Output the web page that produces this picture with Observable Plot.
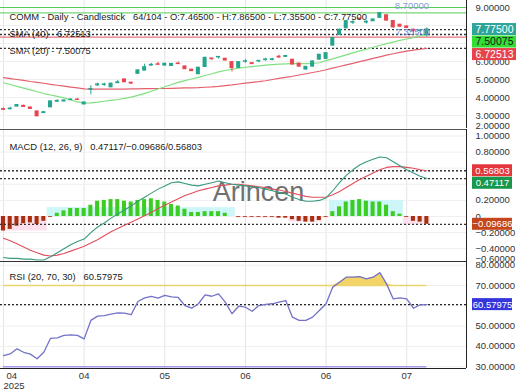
<!DOCTYPE html>
<html>
<head>
<meta charset="utf-8">
<script src="https://cdn.jsdelivr.net/npm/d3@7"></script>
<script src="https://cdn.jsdelivr.net/npm/@observablehq/plot@0.6"></script>
<style>
  html, body { margin: 0; padding: 0; background: #fff; }
  #chart { position: relative; width: 520px; height: 390px; overflow: hidden; background: #fff; }
  #chart > svg { position: absolute; left: 0; overflow: visible; }
</style>
</head>
<body>
<div id="chart"></div>
<script>
// ================= DATA =================
const symbol = "COMM";
const barsShown = 64, barsTotal = 104;

const openP  = [3.35,3.35,3.50,3.53,3.44,3.22,3.14,3.46,3.77,3.78, 3.86,3.88,3.62,4.44,4.68,4.70,4.57,4.80,5.00,4.82,
                5.32,5.50,5.78,5.84,5.78,5.76,5.88,5.72,5.54,5.30, 5.70,6.16,6.23,6.15,5.96,5.65,5.99,5.90,6.01,6.08,
                6.09,6.26,6.26,6.09,5.88,5.56,5.72,6.11,6.15,6.89, 7.48,7.85,8.16,8.38,8.17,8.24,8.43,8.56,8.24,8.04,
                7.94,7.76,7.70,7.465];
const highP  = [3.42,3.46,3.60,3.58,3.46,3.24,3.22,3.80,3.88,3.86, 3.94,3.95,3.74,4.65,4.80,4.80,4.80,4.95,5.02,4.84,
                5.53,5.85,5.90,5.95,5.90,5.88,5.97,5.74,5.56,5.67, 6.24,6.17,6.26,6.17,6.00,5.98,6.10,5.92,6.04,6.18,
                6.18,6.35,6.31,6.12,5.90,5.72,6.02,6.40,6.48,7.32, 7.80,8.28,8.26,8.39,8.28,8.35,8.70,8.60,8.26,8.06,
                7.98,7.80,7.78,7.865];
const lowP   = [3.30,3.32,3.48,3.46,3.35,2.93,3.12,3.44,3.74,3.77, 3.86,3.86,3.60,4.15,4.62,4.62,4.55,4.80,4.83,4.72,
                5.30,5.48,5.74,5.81,5.76,5.72,5.85,5.55,5.45,5.26, 5.68,6.05,6.14,6.04,5.42,5.62,5.90,5.84,5.93,6.02,
                6.03,6.18,6.25,5.80,5.70,5.50,5.70,6.08,6.12,6.85, 7.45,7.82,8.05,8.28,8.08,8.22,8.40,8.25,7.86,7.90,
                7.84,7.60,7.62,7.355];
const closeP = [3.32,3.38,3.58,3.48,3.37,2.96,3.18,3.78,3.80,3.83, 3.88,3.87,3.72,4.47,4.72,4.72,4.76,4.84,4.85,4.78,
                5.50,5.68,5.81,5.82,5.87,5.86,5.86,5.58,5.47,5.65, 6.20,6.14,6.25,6.06,5.64,5.96,6.01,5.86,6.03,6.11,
                6.12,6.23,6.30,5.84,5.72,5.70,6.00,6.37,6.46,7.30, 7.76,8.24,8.19,8.36,8.20,8.33,8.68,8.28,7.90,7.94,
                7.87,7.70,7.72,7.775];
const sma20  = [4.82,4.72,4.62,4.52,4.42,4.32,4.22,4.14,4.06,3.98, 3.86,3.76,3.69,3.70,3.74,3.79,3.84,3.89,3.95,4.02,
                4.12,4.23,4.35,4.47,4.60,4.72,4.84,4.94,5.03,5.12, 5.22,5.32,5.42,5.50,5.57,5.63,5.68,5.72,5.76,5.80,
                5.83,5.85,5.87,5.88,5.88,5.88,5.89,5.93,6.05,6.15, 6.26,6.37,6.48,6.59,6.68,6.79,6.89,6.99,7.08,7.17,
                7.25,7.33,7.42,7.50075];
const sma40  = [5.10,5.05,5.00,4.95,4.89,4.84,4.79,4.73,4.68,4.63, 4.58,4.53,4.48,4.46,4.46,4.46,4.47,4.47,4.47,4.48,
                4.48,4.49,4.49,4.50,4.50,4.51,4.52,4.53,4.54,4.55, 4.57,4.59,4.62,4.66,4.70,4.75,4.80,4.84,4.88,4.93,
                5.00,5.06,5.12,5.18,5.25,5.32,5.39,5.46,5.54,5.63, 5.72,5.81,5.90,5.99,6.08,6.17,6.26,6.35,6.43,6.51,
                6.58,6.63,6.68,6.72513];
const greenLevels = [9.0, 8.7];

const macdLine   = [-0.51,-0.52,-0.52,-0.53,-0.53,-0.54,-0.54,-0.50,-0.45,-0.40, -0.35,-0.31,-0.28,-0.20,-0.13,-0.08,-0.02,0.03,0.08,0.13,
                    0.19,0.24,0.29,0.34,0.38,0.42,0.43,0.41,0.39,0.38, 0.40,0.42,0.44,0.42,0.40,0.39,0.38,0.37,0.36,0.34,
                    0.32,0.30,0.28,0.24,0.21,0.19,0.19,0.20,0.23,0.32, 0.42,0.51,0.58,0.64,0.68,0.71,0.74,0.73,0.68,0.63,
                    0.58,0.54,0.50,0.47117];
const signalLine = [-0.27,-0.30,-0.34,-0.38,-0.42,-0.45,-0.48,-0.49,-0.48,-0.46, -0.43,-0.40,-0.37,-0.33,-0.29,-0.24,-0.19,-0.15,-0.11,-0.07,
                    -0.03,0.01,0.05,0.10,0.14,0.18,0.22,0.26,0.29,0.32, 0.34,0.36,0.38,0.39,0.40,0.40,0.39,0.38,0.37,0.36,
                    0.34,0.33,0.31,0.29,0.27,0.25,0.24,0.24,0.24,0.27, 0.31,0.36,0.41,0.46,0.50,0.54,0.58,0.61,0.62,0.62,
                    0.61,0.60,0.58,0.56803];
const histogram  = [-0.18,-0.16,-0.12,-0.09,-0.08,-0.10,-0.06,-0.01,0.04,0.07, 0.10,0.10,0.10,0.14,0.19,0.20,0.21,0.21,0.19,0.18,
                    0.20,0.21,0.22,0.20,0.18,0.15,0.13,0.09,0.05,0.05, 0.06,0.06,0.06,0.04,0.00,-0.01,-0.01,-0.01,-0.01,-0.01,
                    -0.01,-0.02,-0.02,-0.04,-0.06,-0.07,-0.07,-0.05,-0.01,0.06, 0.12,0.18,0.20,0.21,0.19,0.18,0.18,0.14,0.06,0.03,
                    -0.01,-0.06,-0.07,-0.09686];
const histBand   = [-0.18,-0.18,-0.18,-0.18,-0.18,-0.18,-0.18,0.11,0.11,0.11, 0.11,0.11,0.11,0.11,0.11,0.11,0.11,0.11,0.11,0.11,
                    0.11,0.11,0.11,0.11,0.11,0.11,0.11,0.11,0.11,0.11, 0.11,0.11,0.11,0.11,0.11,-0.02,-0.02,-0.02,-0.02,-0.02,
                    -0.02,-0.02,-0.02,-0.07,-0.07,-0.07,-0.07,-0.07,-0.02,0.20, 0.20,0.20,0.20,0.20,0.20,0.20,0.20,0.20,0.20,0.20,
                    -0.10,-0.10,-0.10,-0.10];

const rsi = [35.5,36.3,38.8,37.1,36.2,33.9,37.1,44.0,44.2,45.4, 45.7,45.4,43.7,52.8,54.9,55.2,55.9,56.5,56.4,55.6,
             62.1,63.9,64.6,63.8,65.1,64.4,64.1,60.1,58.8,61.0, 65.4,64.7,65.9,61.8,56.1,59.8,59.3,57.3,60.1,60.7,
             61.0,61.8,62.6,54.4,52.8,52.8,54.4,57.7,61.0,69.2, 71.6,74.1,74.1,74.4,73.3,74.1,76.3,70.8,63.4,63.9,
             63.4,58.8,60.5,60.57975];
const rsiOver = 70, rsiUnder = 30;

const xTickIdx    = [0, 12, 24, 36, 48, 60];
const xTickLabels = ["04", "04", "05", "06", "06", "07"];
const xTickYears  = ["2025", "", "", "", "", ""];
const priceTicks = [2, 3, 4, 5, 6, 7, 8, 9];
const macdTicks  = [-0.6, -0.4, -0.2, 0, 0.2, 0.4, 0.6, 0.8, 1.0];
const rsiTicks   = [30, 40, 50, 60, 70, 80];

// ================= LAYOUT / STYLE =================
const FONT = "'Liberation Sans', Arial, Helvetica, sans-serif";
const W = 520, MR = 54;
const x0px = 3, step = 6.72;
const plotW = W - MR;
const xDomain = [-x0px / step, (plotW - x0px) / step];
const xMax = xDomain[1];
const UP = "#26a58e", DOWN = "#e8454f";
const TITLE_FS = 9.4, AXIS_FS = 9.5;
const f5 = d3.format(".5f");
const tickFmt = d => d === 0 ? "0" : f5(d);
const NB = "\u00a0\u00a0\u00a0";

const N = closeP.length;
const rows = d3.range(N).map(i => ({
  i, o: openP[i], h: highP[i], l: lowP[i], c: closeP[i],
  s20: sma20[i], s40: sma40[i],
  macd: macdLine[i], sig: signalLine[i], hist: histogram[i], band: histBand[i],
  rsi: rsi[i]
}));
const last = rows[N - 1];

const base = {
  width: W, marginLeft: 0, marginRight: MR,
  x: {domain: xDomain, axis: null},
  style: {fontFamily: FONT, fontSize: "10px", background: "transparent", overflow: "visible", color: "#333"}
};

// axis tick labels; those fully hidden behind a value box are dropped, out-of-range ones are clamped
function axisLabels(ticks, yDomain, bottomPx, boxValues) {
  const lo = Math.min(...yDomain), hi = Math.max(...yDomain);
  const sc = d3.scaleLinear(yDomain, [bottomPx, 0]);
  const boxes = boxValues.map(sc);
  const visible = ticks.filter(t => !boxes.some(b => Math.abs(sc(t) - b) < 4));
  const inside = visible.filter(t => t >= lo && t <= hi);
  const below = visible.filter(t => t < lo);
  return [
    Plot.text(inside, {x: () => xMax, y: d => d, text: tickFmt, textAnchor: "start", dx: 9, fill: "#333", fontSize: AXIS_FS}),
    Plot.text(below, {x: () => xMax, y: () => lo, text: tickFmt, textAnchor: "start", dx: 9, lineAnchor: "bottom", fill: "#333", fontSize: AXIS_FS})
  ];
}

// coloured value boxes on the right axis, pushed apart so they do not overlap
function valueLabels(labels, yDomain, bottomPx, boxW, fs) {
  const sc = d3.scaleLinear(yDomain, [bottomPx, 0]);
  const items = labels.map(l => ({...l, py: sc(l.v)})).sort((a, b) => a.py - b.py);
  let prev = -Infinity;
  for (const it of items) { const y = Math.max(it.py, prev + 12.5); it.dy = y - it.py; prev = y; }
  return items.flatMap(it => [
    Plot.rect([it], {x1: () => xMax, x2: () => xMax, y1: "v", y2: "v", dy: it.dy,
      insetLeft: 6, insetRight: -(6 + boxW), insetTop: -6, insetBottom: -6, fill: it.bg}),
    Plot.text([it], {x: () => xMax, y: "v", dy: it.dy, dx: 6 + boxW / 2, text: "t", fill: it.fg,
      textAnchor: "middle", fontSize: fs})
  ]);
}

const chart = document.getElementById("chart");
function place(svg, top) { svg.style.top = top + "px"; chart.appendChild(svg); }

// ================= PRICE PANE =================
const priceDomain = [2.2778, 9.3889];
const priceH = 129, priceBottom = 128;
const priceBoxes = [
  {v: last.c, t: f5(last.c), bg: "#2fa59a", fg: "#fff"},
  {v: last.s20, t: f5(last.s20), bg: "#33dd33", fg: "#1a1a1a"},
  {v: last.s40, t: f5(last.s40), bg: "#e8434b", fg: "#fff"}
];
const pricePlot = Plot.plot({
  ...base, height: priceH, marginTop: 0, marginBottom: priceH - priceBottom,
  y: {domain: priceDomain, axis: null},
  marks: [
    Plot.ruleX(xTickIdx, {stroke: "#e4e4e4"}),
    Plot.ruleY(priceTicks.filter(t => t > priceDomain[0] && t < priceDomain[1]), {stroke: "#efefef"}),
    Plot.ruleY(greenLevels, {stroke: "#55cc55", strokeWidth: 1}),
    Plot.ruleY([last.l], {stroke: "#e0505a", strokeWidth: 1}),
    Plot.ruleY([last.c, last.s20, last.s40], {stroke: "#333", strokeDasharray: "2,2", strokeWidth: 1.3}),
    Plot.line(rows, {x: "i", y: "s40", stroke: "#e4606c", strokeWidth: 1.2}),
    Plot.line(rows, {x: "i", y: "s20", stroke: "#80e080", strokeWidth: 1.2}),
    Plot.ruleX(rows, {x: "i", y1: "l", y2: "h", stroke: d => d.c >= d.o ? UP : DOWN, strokeWidth: 1}),
    Plot.rect(rows, {x1: d => d.i - 0.3, x2: d => d.i + 0.3,
      y1: d => Math.min(d.o, d.c), y2: d => Math.max(d.o, d.c),
      insetTop: -0.6, insetBottom: -0.6, fill: d => d.c >= d.o ? UP : DOWN}),
    Plot.text([d3.max(highP)], {x: () => N - 1, y: d => d, text: f5, dx: -15, dy: -7, fill: "#8aa0d8", fontSize: AXIS_FS}),
    Plot.text([last.l], {x: () => N - 1, y: d => d, text: f5, dx: -14, dy: -5, fill: "#6f8ad0", fontSize: AXIS_FS}),
    Plot.ruleX([xMax], {stroke: "#222"}),
    ...axisLabels(priceTicks, priceDomain, priceBottom, priceBoxes.map(b => b.v)),
    ...valueLabels(priceBoxes, priceDomain, priceBottom, 44, 10.5),
    Plot.text([`${symbol} - Daily - Candlestick${NB}${barsShown}/${barsTotal} - O:${f5(last.o)} - H:${f5(last.h)} - L:${f5(last.l)} - C:${f5(last.c)}`],
      {frameAnchor: "top-left", dx: 9, dy: 13, textAnchor: "start", fill: "#222", fontSize: TITLE_FS}),
    Plot.text([`SMA (40) - ${f5(last.s40)}`], {frameAnchor: "top-left", dx: 9, dy: 30, textAnchor: "start", fill: "#222", fontSize: TITLE_FS}),
    Plot.text([`SMA (20) - ${f5(last.s20)}`], {frameAnchor: "top-left", dx: 9, dy: 47, textAnchor: "start", fill: "#222", fontSize: TITLE_FS})
  ]
});
place(pricePlot, 0);

// ================= MACD PANE =================
const macdDomain = [-0.559, 1.0807];
const macdH = 132;
const macdBoxes = [
  {v: last.sig, t: f5(last.sig), bg: "#e3363d", fg: "#fff"},
  {v: last.macd, t: f5(last.macd), bg: "#17984c", fg: "#fff"},
  {v: last.hist, t: f5(last.hist), bg: "#c4461a", fg: "#fff"}
];
const macdPlot = Plot.plot({
  ...base, height: macdH, marginTop: 0, marginBottom: 0,
  y: {domain: macdDomain, axis: null},
  marks: [
    Plot.ruleX(xTickIdx, {stroke: "#e4e4e4"}),
    Plot.ruleY(macdTicks.filter(t => t > macdDomain[0] && t < macdDomain[1]), {stroke: "#efefef"}),
    Plot.rect(rows, {x1: d => d.i - 0.5, x2: d => d.i + 0.5, y1: () => 0, y2: "band",
      fill: d => d.band >= 0 ? "#cdf6f8" : "#fde0ec"}),
    Plot.rect(rows, {x1: d => d.i - 0.3, x2: d => d.i + 0.3, y1: () => 0, y2: "hist",
      fill: d => d.hist >= 0 ? "#3ccc22" : "#a8300e"}),
    Plot.text(["Arincen"], {frameAnchor: "middle", dx: 25, dy: -3, fontSize: 27, fill: "#707070"}),
    Plot.ruleY([last.sig, last.macd, last.hist], {stroke: "#333", strokeDasharray: "2,2", strokeWidth: 1.3}),
    Plot.line(rows, {x: "i", y: "sig", stroke: "#e0505e", strokeWidth: 1.1}),
    Plot.line(rows, {x: "i", y: "macd", stroke: "#3a9a80", strokeWidth: 1.1}),
    Plot.ruleY([macdDomain[1]], {stroke: "#555"}),
    Plot.ruleX([xMax], {stroke: "#222"}),
    ...axisLabels(macdTicks, macdDomain, macdH, macdBoxes.map(b => b.v)),
    ...valueLabels(macdBoxes, macdDomain, macdH, 40, 9.5),
    Plot.text([`MACD (12, 26, 9)${NB}${f5(last.macd)}/${f5(last.hist)}/${f5(last.sig)}`],
      {frameAnchor: "top-left", dx: 9, dy: 14, textAnchor: "start", fill: "#222", fontSize: TITLE_FS})
  ]
});
place(macdPlot, 129);

// ================= RSI PANE =================
const rsiDomain = [29.11, 81.82];
const rsiH = 129, rsiBottom = 107;
const rsiBoxes = [{v: last.rsi, t: f5(last.rsi), bg: "#3535dd", fg: "#fff"}];
const rsiPlot = Plot.plot({
  ...base, height: rsiH, marginTop: 0, marginBottom: rsiH - rsiBottom,
  y: {domain: rsiDomain, axis: null},
  marks: [
    Plot.ruleX(xTickIdx, {stroke: "#e4e4e4"}),
    Plot.ruleY(rsiTicks.filter(t => t > rsiDomain[0] && t < rsiDomain[1]), {stroke: "#efefef"}),
    Plot.areaY(rows, {x: "i", y1: () => rsiOver, y2: d => Math.max(d.rsi, rsiOver), fill: "#f3d469"}),
    Plot.ruleY([rsiOver], {x1: () => 0, x2: () => N - 1, stroke: "#e9d56c", strokeWidth: 1.5}),
    Plot.ruleY([rsiUnder], {x1: () => 0, x2: () => N - 1, stroke: "#a898e8", strokeWidth: 1.6}),
    Plot.ruleY([last.rsi], {stroke: "#222", strokeDasharray: "2,2", strokeWidth: 1.3}),
    Plot.line(rows, {x: "i", y: "rsi", stroke: "#7272c8", strokeWidth: 1.3}),
    Plot.ruleY([rsiDomain[1]], {stroke: "#333", strokeWidth: 1.2}),
    Plot.ruleY([rsiDomain[0]], {stroke: "#222"}),
    Plot.ruleX([xMax], {y1: () => rsiDomain[0], y2: () => rsiDomain[1], stroke: "#222"}),
    ...axisLabels(rsiTicks, rsiDomain, rsiBottom, rsiBoxes.map(b => b.v)),
    ...valueLabels(rsiBoxes, rsiDomain, rsiBottom, 40, 9.5),
    Plot.text([`RSI (20, 70, 30)${NB}${f5(last.rsi)}`],
      {frameAnchor: "top-left", dx: 9, dy: 12, textAnchor: "start", fill: "#222", fontSize: TITLE_FS}),
    Plot.text(xTickIdx.slice(1), {x: d => d, text: (d, k) => xTickLabels[k + 1], frameAnchor: "bottom", dy: 10, fill: "#333", fontSize: AXIS_FS}),
    Plot.text(xTickIdx.slice(0, 1), {x: d => d, text: (d, k) => xTickLabels[k], frameAnchor: "bottom", dy: 10, dx: 3, textAnchor: "start", fill: "#333", fontSize: AXIS_FS}),
    Plot.text(xTickIdx.slice(0, 1), {x: d => d, text: (d, k) => xTickYears[k], frameAnchor: "bottom", dy: 20, dx: 0, textAnchor: "start", fill: "#333", fontSize: AXIS_FS})
  ]
});
place(rsiPlot, 261);
</script>
</body>
</html>
